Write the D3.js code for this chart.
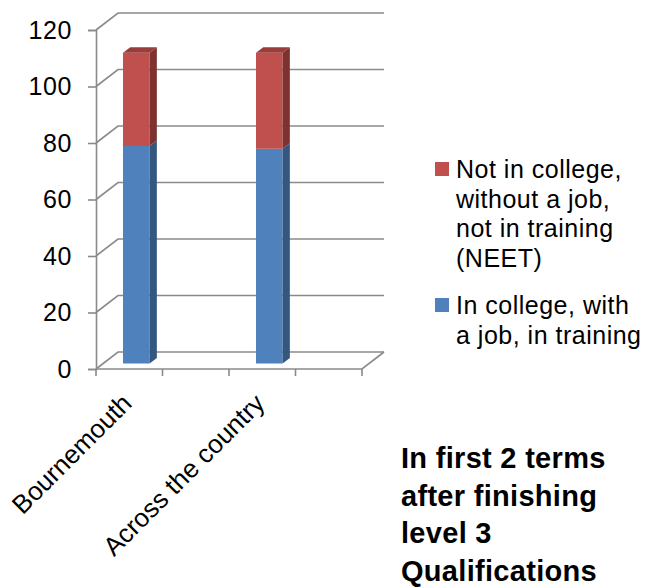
<!DOCTYPE html>
<html>
<head>
<meta charset="utf-8">
<script src="https://cdn.jsdelivr.net/npm/d3@7/dist/d3.min.js"></script>
<style>
  html, body { margin: 0; padding: 0; background: #fff; }
  svg { display: block; }
  text { font-family: "Liberation Sans", Arial, sans-serif; fill: #000; }
</style>
</head>
<body>
<svg id="chart" width="645" height="588"></svg>
<script>
// Destinations after level 3 qualifications (stacked, 3D column style)
const categories = ["Bournemouth", "", "Across the country", ""];
const inCollege  = [77, null, 76, null];   // In college, with a job, in training
const neet       = [33, null, 34, null];   // Not in college, without a job, not in training (NEET)
const yTicks     = [0, 20, 40, 60, 80, 100, 120];

const seriesNames = [
  "Not in college,|without a job,|not in training|(NEET)",
  "In college, with|a job, in training"
];
const titleLines = ["In first 2 terms", "after finishing", "level 3", "Qualifications"];

const svg = d3.select("#chart");

// Plot floor / wall geometry
const x0 = 96, x1 = 362, yBase = 369, yTop = 30;
const DX = 22, DY = -17;               // depth offset from front to back wall
const barFront = 0.32, barBack = 0.65;  // depth fractions occupied by the columns

const x = d3.scaleBand().domain(d3.range(categories.length))
  .range([x0, x1]).paddingInner(0.6).paddingOuter(0.3);
const y = d3.scaleLinear().domain([0, 120]).range([yBase, yTop]);

const P = (px, v, f) => [px + f * DX, y(v) + f * DY];
const poly = pts => "M" + pts.map(p => p.join(",")).join("L") + "Z";

const gridColor = "#8a8a8a";
const grid = svg.append("g").attr("fill", "none").attr("stroke", gridColor).attr("stroke-width", 1.6);

// back-wall gridlines and their side-wall diagonals
yTicks.forEach(t => {
  const a = P(x0, t, 0), b = P(x0, t, 1), c = P(x1, t, 1);
  grid.append("path").attr("d", `M${a}L${b}L${c}`);
});
// floor: front edge and right diagonal
grid.append("path").attr("d", `M${P(x0, 0, 0)}L${P(x1, 0, 0)}L${P(x1, 0, 1)}`);

// front value axis
const yAxis = d3.axisLeft(y).tickValues(yTicks).tickSize(8).tickPadding(16);
const gy = svg.append("g").attr("transform", `translate(${x0},0)`).call(yAxis);
gy.select(".domain").attr("stroke", gridColor).attr("stroke-width", 1.6);
gy.selectAll(".tick line").attr("stroke", gridColor).attr("stroke-width", 1.6);
gy.selectAll(".tick text").attr("font-size", 25).attr("letter-spacing", 0.6)
  .attr("font-family", "Liberation Sans, Arial, sans-serif").attr("fill", "#000");

// category axis ticks at band boundaries
const boundaries = d3.range(categories.length + 1).map(i => x0 + i * x.step());
grid.selectAll("line.ct").data(boundaries).join("line")
  .attr("x1", d => d).attr("x2", d => d).attr("y1", yBase).attr("y2", yBase + 7);

// category labels
svg.append("g").selectAll("text").data(categories.map((c, i) => ({ c, i })).filter(d => d.c))
  .join("text")
  .attr("text-anchor", "end")
  .attr("font-size", 26)
  .attr("transform", d => `translate(${x(d.i) + x.bandwidth() / 2 + 4},${yBase + 36}) rotate(-45)`)
  .text(d => d.c);

// 3D stacked columns
const colors = {
  blue: { front: "#4F81BD", side: "#34577F", top: "#5B8CC6" },
  red:  { front: "#C0504D", side: "#7E3230", top: "#9A3C3A" }
};
const bars = svg.append("g");
categories.forEach((c, i) => {
  if (inCollege[i] == null) return;
  const L = x(i), R = x(i) + x.bandwidth();
  const segs = [
    { lo: 0, hi: inCollege[i], col: colors.blue },
    { lo: inCollege[i], hi: inCollege[i] + neet[i], col: colors.red }
  ];
  segs.forEach((s, k) => {
    const g = bars.append("g");
    g.append("path").attr("fill", s.col.front)
      .attr("d", poly([P(L, s.lo, barFront), P(R, s.lo, barFront), P(R, s.hi, barFront), P(L, s.hi, barFront)]));
    g.append("path").attr("fill", s.col.side)
      .attr("d", poly([P(R, s.lo, barFront), P(R, s.lo, barBack), P(R, s.hi, barBack), P(R, s.hi, barFront)]));
    if (k === segs.length - 1) {
      g.append("path").attr("fill", s.col.top)
        .attr("d", poly([P(L, s.hi, barFront), P(R, s.hi, barFront), P(R, s.hi, barBack), P(L, s.hi, barBack)]));
    }
  });
});

// legend
const legend = svg.append("g");
const legendItems = [
  { name: seriesNames[0], color: colors.red.front, y: 178 },
  { name: seriesNames[1], color: colors.blue.front, y: 314 }
];
legendItems.forEach(it => {
  legend.append("rect").attr("x", 435).attr("y", it.y - 16).attr("width", 14).attr("height", 14).attr("fill", it.color);
  const t = legend.append("text").attr("x", 456).attr("y", it.y).attr("font-size", 25).attr("letter-spacing", 0.5);
  it.name.split("|").forEach((ln, j) => {
    t.append("tspan").attr("x", 456).attr("dy", j === 0 ? 0 : 29.6).text(ln);
  });
});

// chart caption
const cap = svg.append("text").attr("x", 401).attr("y", 468).attr("font-size", 29)
  .attr("font-weight", "bold").attr("letter-spacing", 0.3);
titleLines.forEach((ln, j) => {
  cap.append("tspan").attr("x", 401).attr("dy", j === 0 ? 0 : 37.7).text(ln);
});
</script>
</body>
</html>
